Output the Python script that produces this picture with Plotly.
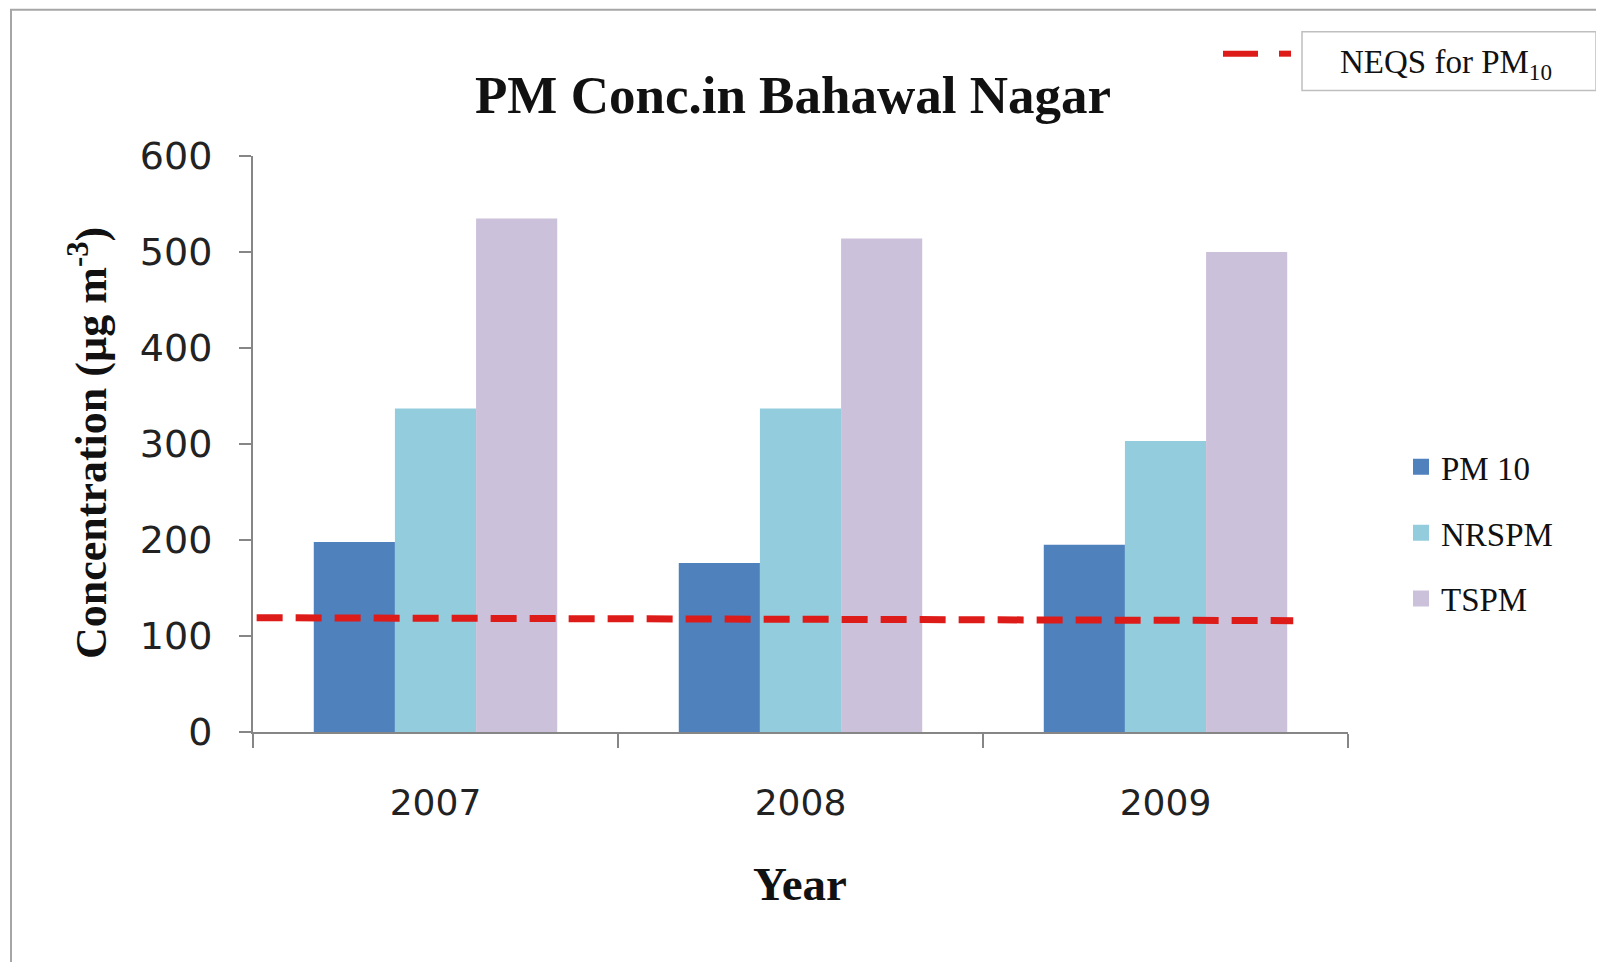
import plotly.graph_objects as go

# ---- data ----
years = ["2007", "2008", "2009"]
pm10 = [198, 176, 195]
nrspm = [337, 337, 303]
tspm = [535, 514, 500]
neqs_x = [-0.49, 2.35]
neqs_y = [119, 116]
y_ticks = [0, 100, 200, 300, 400, 500, 600]

SERIF = "Liberation Serif, Times New Roman, serif"
SANS = "DejaVu Sans, Verdana, sans-serif"
AX = "#868686"
C_PM10, C_NR, C_TS = "#4F81BD", "#93CDDD", "#CCC1DA"
RED = "#DD1C1A"

# page body has an 8px margin: convert screen px to figure px
OFF = 8
W, H = 1604, 962
L, R, T, B = 253 - OFF, 1348 - OFF, 155.5 - OFF, 732.5 - OFF
PW, PH = R - L, B - T


def px(x):  # screen x -> paper
    return (x - OFF - L) / PW


def py(y):  # screen y -> paper
    return (B - (y - OFF)) / PH


fig = go.Figure()
for name, vals, col, grp in [("PM 10", pm10, C_PM10, "a"),
                             ("NRSPM", nrspm, C_NR, "b"),
                             ("TSPM", tspm, C_TS, "c")]:
    fig.add_bar(x=years, y=vals, name=name, marker_color=col,
                marker_line_width=0, legendgroup=grp, showlegend=False)
    # legend proxy with a larger square symbol
    fig.add_scatter(x=[None], y=[None], mode="markers", name=name,
                    legendgroup=grp,
                    marker=dict(symbol="square", size=16, color=col,
                                line=dict(width=0)))

fig.add_scatter(x=neqs_x, y=neqs_y, xaxis="x2", mode="lines",
                line=dict(color=RED, width=7, dash="26px,13px"),
                showlegend=False, name="NEQS for PM10")

shapes = [
    # outer frame (top edge kept just inside the figure)
    dict(type="rect", xref="paper", yref="paper", x0=px(11), x1=1.4,
         y0=-0.6, y1=py(OFF + 1), line=dict(color="#A6A6A6", width=2),
         fillcolor="rgba(0,0,0,0)", layer="below"),
    # NEQS legend box
    dict(type="rect", xref="paper", yref="paper", x0=px(1302), x1=px(1596),
         y0=py(90), y1=py(31), line=dict(color="#BFBFBF", width=1.5)),
    # NEQS legend sample
    dict(type="line", xref="paper", yref="paper", x0=px(1223), x1=px(1258),
         y0=py(53), y1=py(53), line=dict(color=RED, width=6)),
    dict(type="line", xref="paper", yref="paper", x0=px(1279), x1=px(1291),
         y0=py(53), y1=py(53), line=dict(color=RED, width=6)),
]

annotations = [
    dict(text="NEQS for PM<sub>10</sub>", xref="paper", yref="paper",
         x=px(1446), y=py(64), xanchor="center", yanchor="middle",
         showarrow=False, font=dict(family=SERIF, size=33, color="#111")),
    dict(text="<b>Concentration (µg m<sup>-3</sup>)</b>", xref="paper", yref="paper",
         x=px(88), y=py(443), xanchor="center", yanchor="middle", textangle=-90,
         showarrow=False, font=dict(family=SERIF, size=44, color="#111")),
    dict(text="<b>Year</b>", xref="paper", yref="paper",
         x=px(800), y=py(885), xanchor="center", yanchor="middle",
         showarrow=False, font=dict(family=SERIF, size=47, color="#111")),
]

fig.update_layout(
    width=W, height=H,
    margin=dict(l=L, r=W - R, t=T, b=H - B, pad=0),
    paper_bgcolor="white", plot_bgcolor="white",
    title=dict(text="<b>PM Conc.in Bahawal Nagar</b>", x=(793 - OFF) / W,
               y=1 - (94 - OFF) / H, xanchor="center", yanchor="middle",
               font=dict(family=SERIF, size=53, color="#111")),
    barmode="group", bargap=0.333, bargroupgap=0,
    showlegend=True,
    legend=dict(x=px(1401), y=py(533), xanchor="left", yanchor="middle",
                font=dict(family=SERIF, size=33, color="#111"),
                tracegroupgap=20, bgcolor="rgba(0,0,0,0)", itemwidth=30),
    xaxis=dict(type="category", range=[-0.5, 2.5], tickson="boundaries",
               ticks="outside", ticklen=14, tickcolor=AX, tickwidth=2,
               showline=True, linecolor=AX, linewidth=2, showgrid=False,
               tickfont=dict(family=SANS, size=36, color="#222"),
               ticklabelstandoff=38),
    xaxis2=dict(overlaying="x", range=[-0.5, 2.5], visible=False),
    yaxis=dict(range=[0, 600], tickmode="array", tickvals=y_ticks,
               ticks="outside", ticklen=12, tickcolor=AX, tickwidth=2,
               showline=True, linecolor=AX, linewidth=2, showgrid=False,
               zeroline=False,
               tickfont=dict(family=SANS, size=38, color="#222"),
               ticklabelstandoff=19),
    shapes=shapes,
    annotations=annotations,
)

fig.write_html("out.html")
